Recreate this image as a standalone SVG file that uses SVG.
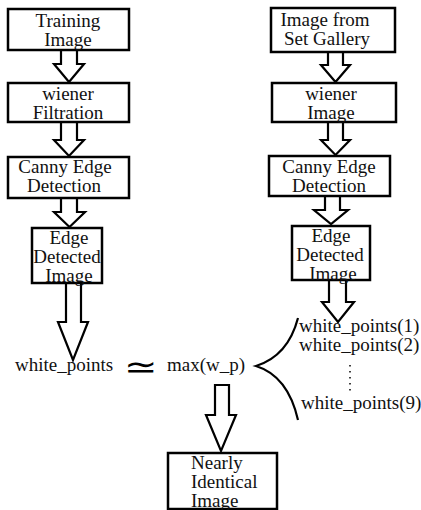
<svg xmlns="http://www.w3.org/2000/svg" width="421" height="510" viewBox="0 0 421 510">
<style>
.box{fill:#fff;stroke:#000;stroke-width:2.5}
.arr{fill:#fff;stroke:#000;stroke-width:2.2;stroke-linejoin:miter}
.t{font-family:"Liberation Serif","Times New Roman",serif;font-size:19px;fill:#111;text-anchor:middle}
.tl{font-family:"Liberation Serif","Times New Roman",serif;font-size:19px;fill:#111}
.ln{fill:none;stroke:#000;stroke-width:2.2}
</style>
<rect width="421" height="510" fill="#fff"/>
<g id="connectors">
<polygon class="arr" points="61,50 77,50 77,64 84,64 69,82 54,64 61,64"/>
<polygon class="arr" points="61,122 77,122 77,140 84,140 69,156 54,140 61,140"/>
<polygon class="arr" points="61,198 77,198 77,212 85,212 69.5,227 54,212 61,212"/>
<polygon class="arr" points="66,283 81,283 81,322 88,322 73,360 58,322 66,322"/>
<polygon class="arr" points="328,52 343,52 343,65 350,65 335.5,82 321,65 328,65"/>
<polygon class="arr" points="328,122 343,122 343,140 350,140 335.5,155 321,140 328,140"/>
<polygon class="arr" points="325,196 340,196 340,210 348,210 331,224 314,210 325,210"/>
<polygon class="arr" points="329,280 346,280 346,302 354,302 338,322 322,302 329,302"/>
<polygon class="arr" points="215,385 229,385 229,415 236,415 221,451 206,415 215,415"/>
<path class="ln" d="M298,318 Q288,356 256,366 Q288,376 298,420"/>
<line x1="350" y1="365" x2="350" y2="392" stroke="#000" stroke-width="1.5" stroke-dasharray="1.5,4.5"/>
</g>
<g id="training">
<rect class="box" x="8" y="9" width="121" height="41"/>
<text class="t" x="68" y="27">Training</text>
<text class="t" x="68" y="46">Image</text>
</g>
<g id="wiener-filtration">
<rect class="box" x="8" y="83" width="121" height="39"/>
<text class="t" x="68" y="100">wiener</text>
<text class="t" x="68" y="119">Filtration</text>
</g>
<g id="canny-left">
<rect class="box" x="8" y="157" width="121" height="41"/>
<text class="t" x="65" y="173">Canny Edge</text>
<text class="t" x="64" y="192">Detection</text>
</g>
<g id="edge-left">
<rect class="box" x="32" y="228" width="70" height="55"/>
<text class="t" x="69" y="244">Edge</text>
<text class="t" x="67" y="263">Detected</text>
<text class="t" x="69" y="282">Image</text>
</g>
<g id="gallery">
<rect class="box" x="271" y="8" width="124" height="44"/>
<text class="t" x="325" y="26">Image from</text>
<text class="t" x="327" y="45">Set Gallery</text>
</g>
<g id="wiener-image">
<rect class="box" x="272" y="83" width="124" height="39"/>
<text class="t" x="331" y="100">wiener</text>
<text class="t" x="331" y="119">Image</text>
</g>
<g id="canny-right">
<rect class="box" x="269" y="156" width="121" height="40"/>
<text class="t" x="329" y="173">Canny Edge</text>
<text class="t" x="329" y="192">Detection</text>
</g>
<g id="edge-right">
<rect class="box" x="292" y="226" width="78" height="54"/>
<text class="t" x="331" y="242">Edge</text>
<text class="t" x="330" y="261">Detected</text>
<text class="t" x="333" y="280">Image</text>
</g>
<g id="white-points">
<text class="tl" x="15" y="371">white_points</text>
</g>
<g id="approx">
<text x="0" y="0" transform="translate(141,378) scale(1.25,1)" font-family="DejaVu Sans,sans-serif" font-size="32" text-anchor="middle" fill="#000">≃</text>
</g>
<g id="max-wp">
<text class="tl" x="167" y="371">max(w_p)</text>
</g>
<g id="list">
<text class="tl" x="299" y="332">white_points(1)</text>
<text class="tl" x="299" y="351">white_points(2)</text>
<text class="tl" x="301" y="409">white_points(9)</text>
</g>
<g id="nearly">
<rect class="box" x="168" y="453" width="109" height="56"/>
<text class="tl" x="191" y="469">Nearly</text>
<text class="tl" x="191" y="488">Identical</text>
<text class="tl" x="191" y="507">Image</text>
</g>
</svg>
